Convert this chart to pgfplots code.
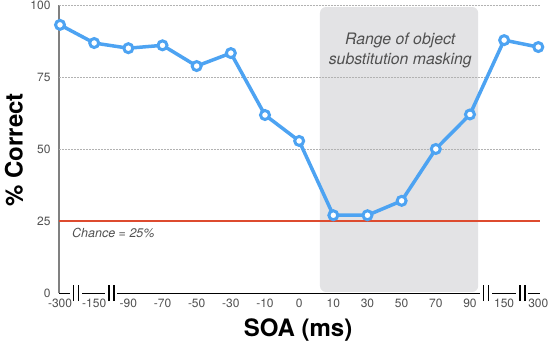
\documentclass[border=0pt]{standalone}
\usepackage{fontspec}
\setmainfont{TeX Gyre Heros}
\usepackage{pgfplots}
\pgfplotsset{compat=1.18}
\definecolor{lineblue}{HTML}{4DA3F2}
\definecolor{chancered}{HTML}{DD4B2F}
\definecolor{shadegray}{HTML}{E3E3E5}
\definecolor{ticktext}{HTML}{505050}
\begin{document}
\begin{tikzpicture}
\path[use as bounding box] (0pt,0pt) rectangle (550pt,349pt);
\begin{axis}[
  at={(59pt,56pt)}, anchor=south west,
  scale only axis, width=481pt, height=288pt,
  xmin=-0.03, xmax=14.05, ymin=0, ymax=100,
  axis lines*=left,
  x axis line style={black, line width=1pt, -},
  y axis line style={gray, line width=1.2pt, -},
  xtick={0,...,14},
  xticklabels={-300,-150,-90,-70,-50,-30,-10,0,10,30,50,70,90,150,300},
  ytick={0,25,50,75,100},
  major tick length=0pt,
  tick label style={font=\fontsize{12}{13}\selectfont, text=ticktext},
  xticklabel style={yshift=-2pt},
  yticklabel style={xshift=-5pt},
  /pgf/number format/assume math mode=true,
  xlabel={SOA (ms)}, ylabel={\% Correct},
  label style={font=\fontsize{24}{26}\selectfont\bfseries},
  xlabel style={at={(axis description cs:0.497,-0.128)}, anchor=center},
  ylabel style={at={(axis description cs:-0.0936,0.4965)}, anchor=center},
  clip=false,
]
\fill[shadegray, rounded corners=6pt] (axis cs:7.61,0.35) rectangle (axis cs:12.24,99.3);
\draw[densely dotted, gray!60, line width=0.5pt] (axis cs:-0.03,50) -- (axis cs:14.05,50);
\draw[densely dotted, gray!60, line width=0.5pt] (axis cs:-0.03,75) -- (axis cs:14.05,75);
\draw[densely dotted, gray!60, line width=0.5pt] (axis cs:-0.03,100) -- (axis cs:14.05,100);
\node[font=\fontsize{15.8}{20}\selectfont\itshape, text=ticktext, align=center] at (axis cs:9.96,84.2) {Range of object\\substitution masking};
\node[font=\fontsize{12.5}{14}\selectfont\itshape, text=ticktext, anchor=west, inner sep=0pt] at (axis cs:0.35,20.8) {Chance = 25\%};
\addplot[chancered, line width=1.2pt, forget plot] coordinates {(-0.03,25) (14.05,25)};
\addplot[lineblue, line width=3.5pt, mark=*, mark size=4.5pt,
  mark options={fill=white, draw=lineblue, line width=3pt}]
  coordinates {(0,93.1) (1,86.8) (2,85) (3,86) (4,78.8) (5,83.3) (6,61.8) (7,52.8)
               (8,27) (9,27) (10,32) (11,50) (12,62) (13,87.8) (14,85.4)};
% axis breaks
\draw[white, line width=3pt] ([xshift=-6pt]axis cs:0.47,0) -- ([xshift=6pt]axis cs:0.47,0);
\draw[black, line width=1.6pt] ([xshift=-2.5pt,yshift=-8pt]axis cs:0.47,0) -- ++(0pt,16pt);
\draw[black, line width=1.6pt] ([xshift=2.5pt,yshift=-8pt]axis cs:0.47,0) -- ++(0pt,16pt);
\draw[white, line width=3pt] ([xshift=-6pt]axis cs:1.5,0) -- ([xshift=6pt]axis cs:1.5,0);
\draw[black, line width=1.6pt] ([xshift=-2.5pt,yshift=-8pt]axis cs:1.5,0) -- ++(0pt,16pt);
\draw[black, line width=1.6pt] ([xshift=2.5pt,yshift=-8pt]axis cs:1.5,0) -- ++(0pt,16pt);
\draw[white, line width=3pt] ([xshift=-6pt]axis cs:12.47,0) -- ([xshift=6pt]axis cs:12.47,0);
\draw[black, line width=1.6pt] ([xshift=-2.5pt,yshift=-8pt]axis cs:12.47,0) -- ++(0pt,16pt);
\draw[black, line width=1.6pt] ([xshift=2.5pt,yshift=-8pt]axis cs:12.47,0) -- ++(0pt,16pt);
\draw[white, line width=3pt] ([xshift=-6pt]axis cs:13.53,0) -- ([xshift=6pt]axis cs:13.53,0);
\draw[black, line width=1.6pt] ([xshift=-2.5pt,yshift=-8pt]axis cs:13.53,0) -- ++(0pt,16pt);
\draw[black, line width=1.6pt] ([xshift=2.5pt,yshift=-8pt]axis cs:13.53,0) -- ++(0pt,16pt);
\end{axis}
\end{tikzpicture}
\end{document}
